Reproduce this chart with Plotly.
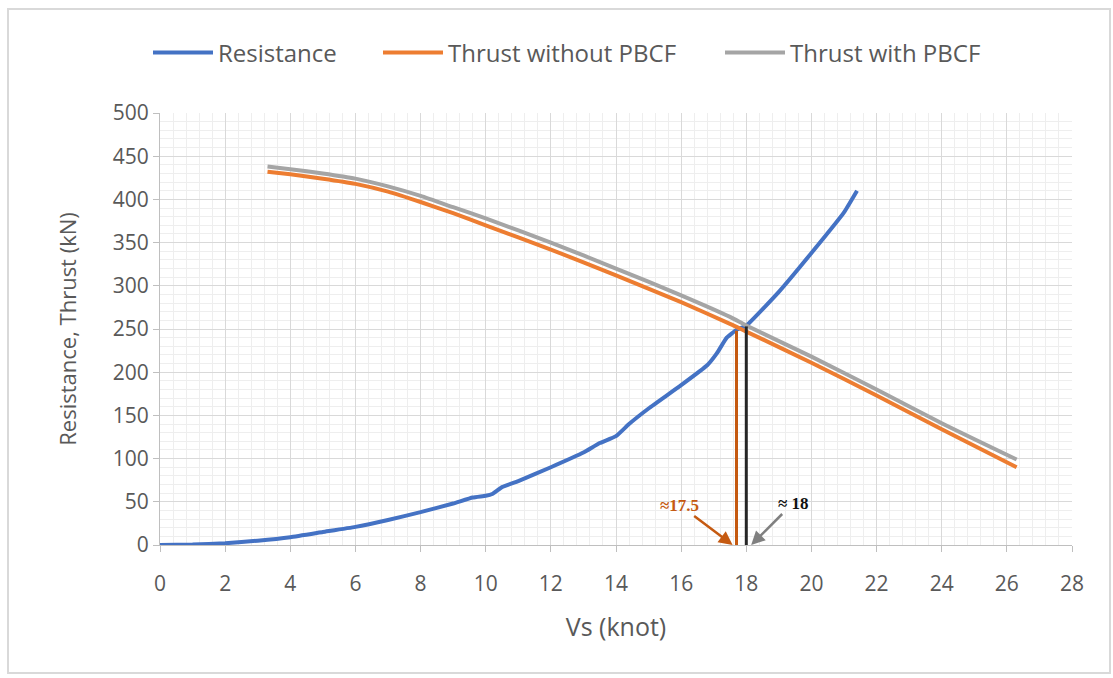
import plotly.graph_objects as go

# Ship speed vs. resistance / propeller thrust
res_speed = [0, 1, 2, 3, 4, 5, 6, 7, 8, 9, 9.6, 10.0, 10.2, 10.5, 11, 12, 13, 13.5, 14, 14.4,
             15, 16, 16.8, 17.1, 17.4, 17.7, 18, 19, 20, 21, 21.4]
resistance = [0, 0.5, 2, 5, 9, 15, 21, 29, 38, 48, 55, 57, 59, 67, 74, 90, 107, 118, 126, 140,
              158, 185, 208, 222, 240, 249, 254, 293, 338, 385, 410]

thr_speed = [3.3, 4, 5, 6, 7, 8, 9, 10, 12, 14, 16, 17.5, 18, 20, 22, 24, 26.3]
thrust_without = [432, 429, 424, 418, 409, 397, 384, 370, 342, 312, 281, 256, 247, 211, 173, 134, 90]
thrust_with = [438, 435, 430, 424, 415, 404, 391, 378, 350, 320, 289, 264, 254, 218, 180, 141, 99]

# Operating points (intersections of resistance and thrust)
op_speed = [17.7, 18.0]
op_thrust = [248, 253]
op_labels = ["≈17.5", "≈ 18"]

BLUE = "#4472C4"
ORANGE = "#ED7D31"
GRAY = "#A5A5A5"
TXT = "#595959"
FONT = "Open Sans"

fig = go.Figure()
fig.add_trace(go.Scatter(x=res_speed, y=resistance, mode="lines", name="Resistance", legend="legend",
                         line=dict(color=BLUE, width=4, shape="spline", smoothing=0.4)))
fig.add_trace(go.Scatter(x=thr_speed, y=thrust_without, mode="lines", name="Thrust without PBCF",
                         legend="legend2",
                         line=dict(color=ORANGE, width=4, shape="spline", smoothing=0.6)))
fig.add_trace(go.Scatter(x=thr_speed, y=thrust_with, mode="lines", name="Thrust with PBCF",
                         legend="legend3",
                         line=dict(color=GRAY, width=4, shape="spline", smoothing=0.6)))

# Drop lines from the operating points to the speed axis
fig.add_trace(go.Scatter(x=[op_speed[0], op_speed[0]], y=[0, op_thrust[0]], mode="lines",
                         line=dict(color="#C55A11", width=3), showlegend=False, hoverinfo="skip"))
fig.add_trace(go.Scatter(x=[op_speed[1], op_speed[1]], y=[0, op_thrust[1]], mode="lines",
                         line=dict(color="#262626", width=3), showlegend=False, hoverinfo="skip"))

fig.add_annotation(x=op_speed[0] - 0.12, y=0, ax=-53, ay=-40, text="<b>" + op_labels[0] + "</b>",
                   showarrow=True, arrowhead=2, arrowsize=1.1, arrowwidth=2.5, arrowcolor="#C55A11",
                   font=dict(family="Liberation Serif", size=17, color="#C55A11"))
fig.add_annotation(x=op_speed[1] + 0.15, y=0, ax=42, ay=-42, text="<b>" + op_labels[1] + "</b>",
                   showarrow=True, arrowhead=2, arrowsize=1.1, arrowwidth=2.5, arrowcolor="#808080",
                   font=dict(family="Liberation Serif", size=17, color="#111111"))

# Outer chart frame
fig.add_shape(type="rect", xref="paper", yref="paper",
              x0=-152 / 912, x1=950 / 912, y0=-128 / 432, y1=536 / 432,
              line=dict(color="#D9D9D9", width=2), layer="below")

legend_style = dict(orientation="h", yanchor="middle", y=(545 - 53) / 432, xanchor="left",
                    font=dict(size=24, color=TXT), itemwidth=60, bgcolor="rgba(0,0,0,0)")

fig.update_layout(
    width=1113, height=678,
    margin=dict(l=160, r=41, t=113, b=133),
    paper_bgcolor="white", plot_bgcolor="white",
    font=dict(family=FONT, color=TXT, size=18),
    legend=dict(legend_style, x=(148 - 160) / 912),
    legend2=dict(legend_style, x=(378 - 160) / 912),
    legend3=dict(legend_style, x=(720 - 160) / 912),
    xaxis=dict(range=[0, 28], tick0=0, dtick=2, showline=True, linecolor="#BFBFBF", linewidth=1,
               ticks="outside", ticklen=6, tickcolor="#BFBFBF", ticklabelstandoff=14,
               showgrid=True, gridcolor="#D9D9D9", gridwidth=1, zeroline=False,
               minor=dict(dtick=0.4, showgrid=True, gridcolor="#EEEEEE", gridwidth=1),
               title=dict(text="Vs (knot)", font=dict(size=25, color=TXT), standoff=22),
               tickfont=dict(size=21, color=TXT)),
    yaxis=dict(range=[0, 500], tick0=0, dtick=50, showline=True, linecolor="#BFBFBF", linewidth=1,
               ticks="outside", ticklen=6, tickcolor="#BFBFBF",
               showgrid=True, gridcolor="#D9D9D9", gridwidth=1, zeroline=False,
               minor=dict(dtick=10, showgrid=True, gridcolor="#EEEEEE", gridwidth=1),
               title=dict(text="Resistance, Thrust (kN)", font=dict(size=22, color=TXT), standoff=30),
               tickfont=dict(size=21, color=TXT)),
)

fig.write_html("out.html")
